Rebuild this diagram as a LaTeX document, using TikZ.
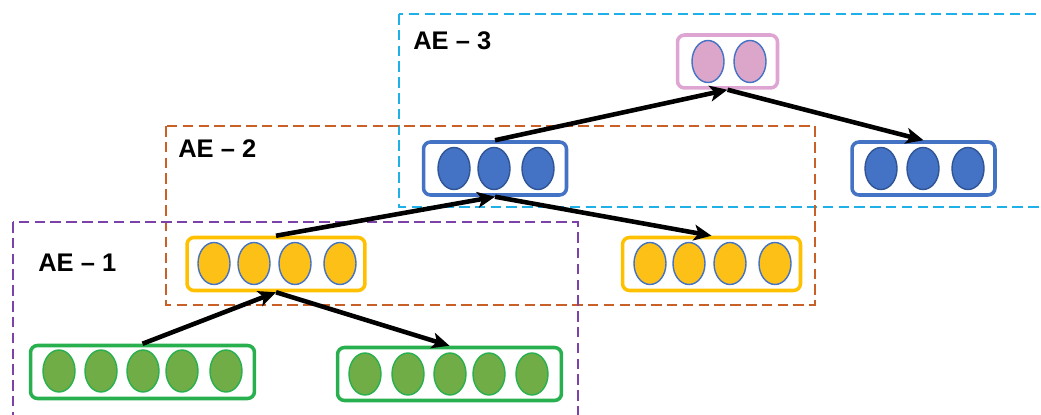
\documentclass[tikz,border=0pt]{standalone}
\usepackage{fontspec}
\setmainfont{Liberation Sans}
\usetikzlibrary{arrows.meta,shapes.geometric}

\definecolor{greenline}{RGB}{40,176,78}
\definecolor{greenfill}{RGB}{112,173,71}
\definecolor{yellowline}{RGB}{255,192,0}
\definecolor{yellowfill}{RGB}{252,192,22}
\definecolor{blueline}{RGB}{68,114,196}
\definecolor{bluedark}{RGB}{47,85,151}
\definecolor{pinkline}{RGB}{222,165,210}
\definecolor{pinkfill}{RGB}{220,166,202}
\definecolor{aethree}{RGB}{30,176,230}
\definecolor{aetwo}{RGB}{200,96,40}
\definecolor{aeone}{RGB}{125,65,170}

\begin{document}
\begin{tikzpicture}[x=0.02cm,y=-0.02cm,
  region/.style={line width=0.9pt, dash pattern=on 6pt off 3pt},
  layerbox/.style={draw, rounded corners=4pt, line width=2pt, fill=white,
    minimum height=1.06cm, inner sep=0pt},
  cell/.style={ellipse, draw, line width=0.8pt, minimum width=0.64cm,
    minimum height=0.84cm, inner sep=0pt},
  greencell/.style={cell, fill=greenfill, draw=greenline},
  yellowcell/.style={cell, fill=yellowfill, draw=blueline},
  bluecell/.style={cell, fill=blueline, draw=bluedark},
  pinkcell/.style={cell, fill=pinkfill, draw=blueline},
  lab/.style={inner sep=0pt, anchor=base west, font=\bfseries\fontsize{14.5}{17}\selectfont},
  flow/.style={line width=2.6pt, -{Stealth[length=10pt,width=9pt,inset=2.5pt]}}
]
\clip (0,0) rectangle (1041,415);

% autoencoder regions
\draw[region, draw=aethree] (399,14) rectangle (1070,207);
\draw[region, draw=aetwo] (166,126) rectangle (815,305);
\draw[region, draw=aeone] (13,222) rectangle (578,440);

\node[lab] (l3) at (413,50) {AE – 3};
\node[lab] (l2) at (178,158) {AE – 2};
\node[lab] (l1) at (38,272) {AE – 1};

% layer boxes
\node[layerbox, draw=pinkline, minimum width=2.0cm] (pk) at (727.5,61.5) {};
\node[layerbox, draw=blueline, minimum width=2.86cm] (bl) at (495,168.5) {};
\node[layerbox, draw=blueline, minimum width=2.86cm] (br) at (923.5,168.5) {};
\node[layerbox, draw=yellowline, minimum width=3.56cm] (yl) at (276,264) {};
\node[layerbox, draw=yellowline, minimum width=3.56cm] (yr) at (711.5,264) {};
\node[layerbox, draw=greenline, minimum width=4.48cm] (gl) at (142.5,372) {};
\node[layerbox, draw=greenline, minimum width=4.48cm] (gr) at (449.5,374) {};

% units inside each layer
\foreach \i/\x in {1/708,2/750}
  \node[pinkcell] (pk\i) at (\x,61.5) {};
\foreach \i/\x in {1/454,2/494,3/538}
  \node[bluecell] (bl\i) at (\x,168.5) {};
\foreach \i/\x in {1/881,2/923,3/968}
  \node[bluecell] (br\i) at (\x,168.5) {};
\foreach \i/\x in {1/214,2/254,3/295,4/340}
  \node[yellowcell] (yl\i) at (\x,263.5) {};
\foreach \i/\x in {1/650,2/689,3/730,4/775}
  \node[yellowcell] (yr\i) at (\x,263.5) {};
\foreach \i/\x in {1/59,2/101,3/143,4/182,5/226}
  \node[greencell] (gl\i) at (\x,371) {};
\foreach \i/\x in {1/365,2/408,3/450,4/489,5/532}
  \node[greencell] (gr\i) at (\x,374) {};

% encode / decode connections
\draw[flow] (gl.north) -- (yl.south);
\draw[flow] (yl.south) -- (gr.north);
\draw[flow] (yl.north) -- (bl.south);
\draw[flow] (bl.south) -- (yr.north);
\draw[flow] (bl.north) -- (pk.south);
\draw[flow] (pk.south) -- (br.north);
\end{tikzpicture}
\end{document}
